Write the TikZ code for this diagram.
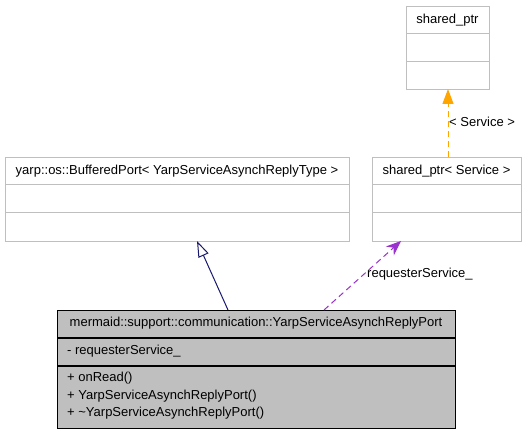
\documentclass[tikz,border=0pt]{standalone}
\usepackage{fontspec}
\setmainfont{Liberation Sans}
\usetikzlibrary{arrows.meta}
\definecolor{boxgrey}{RGB}{191,191,191}
\definecolor{lightborder}{RGB}{191,191,191}
\definecolor{inhblue}{RGB}{25,25,112}
\definecolor{usepurple}{RGB}{154,50,205}
\definecolor{tplorange}{RGB}{255,165,0}
\begin{document}
\begin{tikzpicture}[x=1pt,y=-1pt,
  every node/.style={font=\fontsize{13}{15}\selectfont, inner sep=0pt},
  umlbox/.style={draw=lightborder, line width=1pt, fill=white, anchor=north west},
  mainbox/.style={draw=black, line width=1.3pt, fill=boxgrey, anchor=north west},
  lbl/.style={anchor=center},
  member/.style={anchor=west},
  dashline/.style={dash pattern=on 6pt off 4pt, line width=1pt},
]
\useasboundingbox (0,0) rectangle (528,435);
\fill[white] (0,0) rectangle (528,435);

% top shared_ptr
\node[umlbox, minimum width=83pt, minimum height=83pt] (sp) at (406,6) {};
\draw[lightborder, line width=1pt] (406,34) -- (489,34) (406,62) -- (489,62);
\node[lbl] (sptitle) at (447.5,20) {shared\_ptr};

% BufferedPort
\node[umlbox, minimum width=344pt, minimum height=84pt] (bp) at (5,157) {};
\draw[lightborder, line width=1pt] (5,185) -- (349,185) (5,213) -- (349,213);
\node[lbl] (bptitle) at (177,171) {yarp::os::BufferedPort< YarpServiceAsynchReplyType >};

% shared_ptr<Service>
\node[umlbox, minimum width=149pt, minimum height=84pt] (sps) at (372,157) {};
\draw[lightborder, line width=1pt] (372,185) -- (521,185) (372,213) -- (521,213);
\node[lbl] (spstitle) at (446.5,171) {shared\_ptr< Service >};

% main class
\node[mainbox, minimum width=398pt, minimum height=118pt] (main) at (57,310) {};
\draw[black, line width=1.3pt] (57,338) -- (455,338) (57,366) -- (455,366);
\node[lbl] (maintitle) at (256,323) {mermaid::support::communication::YarpServiceAsynchReplyPort};
\node[member] (attr) at (67,351) {- requesterService\_};
\node[member] (m1) at (67,378.5) {+ onRead()};
\node[member] (m2) at (67,396) {+ YarpServiceAsynchReplyPort()};
\node[member] (m3) at (67,413.5) {+ \char"7EYarpServiceAsynchReplyPort()};

% connector end points
\coordinate (inhS) at (228,310);
\coordinate (inhT) at (197,241);
\coordinate (useS) at (324,310);
\coordinate (useT) at (401,241);
\coordinate (tplS) at (448,157);
\coordinate (tplT) at (448,89);

% inheritance
\draw[inhblue, line width=1pt, -{Triangle[open, length=16pt, width=11pt]}] (inhS) -- (inhT);
% usage
\draw[usepurple, dashline, -{Stealth[length=15pt, width=12pt, inset=5pt]}] (useS) -- (useT);
\node[anchor=west] (uselbl) at (367,274) {requesterService\_};
% template
\draw[tplorange, dashline, -{Triangle[length=15pt, width=11pt]}] (tplS) -- (tplT);
\node[anchor=west] (tpllbl) at (449,122) {< Service >};
\end{tikzpicture}
\end{document}
